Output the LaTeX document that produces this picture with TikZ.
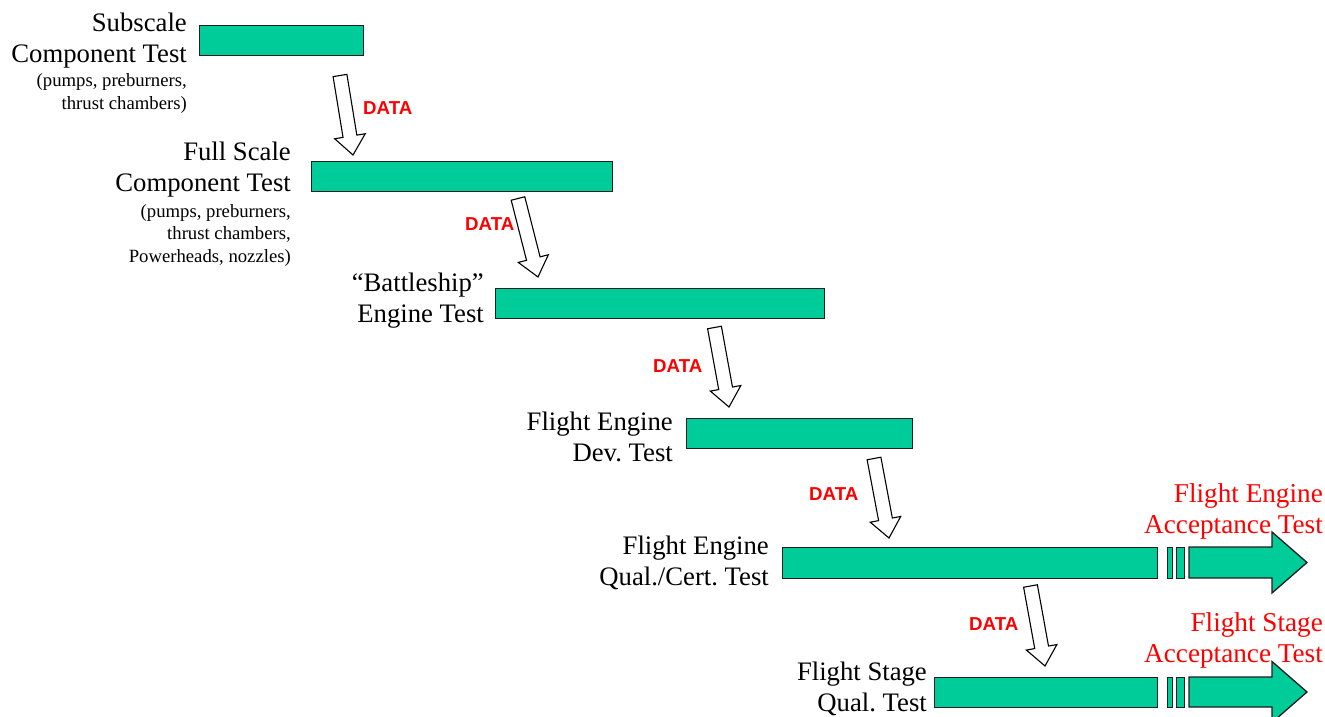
\documentclass[tikz,border=0pt]{standalone}
\usepackage{fontspec}
\setmainfont{Liberation Serif}
\newfontfamily\datafont{Liberation Sans}
\usetikzlibrary{calc}
\definecolor{barfill}{RGB}{0,204,153}
\definecolor{barline}{RGB}{30,30,30}
\definecolor{datared}{RGB}{255,0,0}
\frenchspacing

\tikzset{
  bar/.style={draw=barline, line width=1.3pt, fill=barfill, inner sep=0pt, anchor=north west},
  biglab/.style={font=\fontsize{26.7}{31}\selectfont, align=right, inner sep=0pt, anchor=base east},
  smalllab/.style={font=\fontsize{18.7}{22.5}\selectfont, align=right, inner sep=0pt, anchor=base east},
  redlab/.style={biglab, font=\fontsize{27.2}{31}\selectfont, text=datared},
  datalab/.style={font=\datafont\bfseries\fontsize{18.7}{22}\selectfont, text=datared, inner sep=0pt, anchor=base west},
  dataarr/.style={draw=black, line width=1.1pt, fill=white, line join=miter},
  fatarr/.style={draw=barline, line width=1.3pt, fill=barfill, line join=miter}
}

% hollow block arrow from a tail point to a tip point
\newcommand\dataarrow[3]{%
  \coordinate (#1t) at #2;
  \coordinate (#1h) at #3;
  \coordinate (#1b) at ($(#1h)!19pt!(#1t)$);
  \draw[dataarr] ($(#1t)!7pt!90:(#1h)$) -- ($(#1b)!7pt!90:(#1h)$)
     -- ($(#1b)!15.5pt!90:(#1h)$) -- (#1h) -- ($(#1b)!15.5pt!-90:(#1h)$)
     -- ($(#1b)!7pt!-90:(#1h)$) -- ($(#1t)!7pt!-90:(#1h)$) -- cycle;
}

% broken bar end: two slivers and a fat arrow, on a bar from y=#1 to y=#2
\newcommand\fatend[3]{%
  \node[bar, minimum width=5pt, minimum height=#2pt-#1pt] (#3s1) at (1167,#1) {};
  \node[bar, minimum width=8pt, minimum height=#2pt-#1pt] (#3s2) at (1176,#1) {};
  \coordinate (#3a) at (1189,#1);
  \coordinate (#3tip) at (1307,{(#1+#2)/2});
  \draw[fatarr] (#3a) -- (1272,#1) -- (1272,{(#1+#2)/2-30.5}) -- (#3tip)
     -- (1272,{(#1+#2)/2+30.5}) -- (1272,#2) -- (1189,#2) -- cycle;
}

\begin{document}
\begin{tikzpicture}[x=1pt,y=-1pt]
\useasboundingbox (0,0) rectangle (1325,717);
\clip (0,0) rectangle (1325,717);

% test bars
\node[bar, minimum width=164pt, minimum height=30pt] (b1) at (199,25) {};
\node[bar, minimum width=301pt, minimum height=30pt] (b2) at (311,161) {};
\node[bar, minimum width=329pt, minimum height=30pt] (b3) at (495,288) {};
\node[bar, minimum width=226pt, minimum height=30pt] (b4) at (686,418) {};
\node[bar, minimum width=375pt, minimum height=31pt] (b5) at (782,547) {};
\node[bar, minimum width=223pt, minimum height=30pt] (b6) at (934,677) {};
\fatend{547}{578}{e5}
\fatend{677}{707}{e6}

% stage labels (anchored at the baseline of their last line)
\node[biglab] (l1) at (187,62.7) {Subscale\\Component Test};
\node[smalllab] (l1s) at (187,109) {(pumps, preburners,\\thrust chambers)};
\node[biglab] (l2) at (291,191) {Full Scale\\Component Test};
\node[smalllab] (l2s) at (291,262) {(pumps, preburners,\\thrust chambers,\hspace{5pt}\\Powerheads, nozzles)};
\node[biglab] (l3) at (484,322) {``Battleship''\\Engine Test};
\node[biglab] (l4) at (673,461) {Flight Engine\hspace{6.7pt}\\Dev. Test};
\node[biglab] (l5) at (769,585) {Flight Engine\hspace{6.7pt}\\Qual./Cert. Test};
\node[biglab] (l6) at (927,711) {Flight Stage\\Qual. Test};
\node[redlab] (r5) at (1323,533) {Flight Engine\hspace{6.7pt}\\Acceptance Test};
\node[redlab] (r6) at (1323,662) {Flight Stage\hspace{6.7pt}\\Acceptance Test};

% data flow between stages
\dataarrow{d1}{(340,75.5)}{(353,155)}
\dataarrow{d2}{(518,198.5)}{(538,277)}
\dataarrow{d3}{(714.5,327.5)}{(729,407)}
\dataarrow{d4}{(874,458.5)}{(889,538)}
\dataarrow{d5}{(1030.5,586)}{(1045,666)}
\node[datalab] (t1) at (363,114) {DATA};
\node[datalab] (t2) at (465,230) {DATA};
\node[datalab] (t3) at (653,372) {DATA};
\node[datalab] (t4) at (809,500) {DATA};
\node[datalab] (t5) at (969,630) {DATA};
\end{tikzpicture}
\end{document}
